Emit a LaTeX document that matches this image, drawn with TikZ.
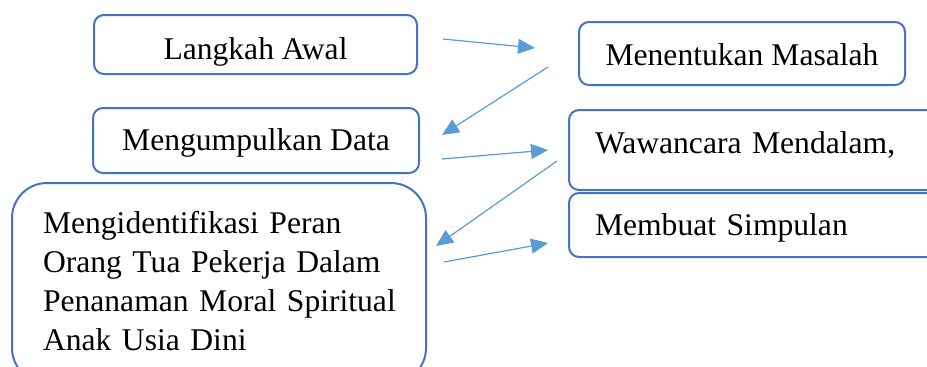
\documentclass[tikz,border=0pt]{standalone}
\usepackage{fontspec}
\setmainfont{Liberation Serif}
\usetikzlibrary{arrows.meta}
\definecolor{boxblue}{HTML}{4472C4}
\definecolor{arrblue}{HTML}{5B9BD5}
\begin{document}
\begin{tikzpicture}[x=1pt,y=-1pt,
  box/.style={draw=boxblue, line width=2pt, rounded corners=10pt,
    font=\fontsize{31.6}{39}\selectfont, inner sep=0pt, text depth=0pt},
  rbox/.style={box, text width=339pt, align=left, inner xsep=26pt},
  arr/.style={draw=arrblue, line width=1.2pt, -{Triangle[length=17pt,width=15pt]}}]
\useasboundingbox (0,0) rectangle (927,367);
\clip (0,0) rectangle (927,367);
% boxes
\node[box, minimum width=323pt, minimum height=59pt, text height=29pt] (b1) at (255.5,44.5) {Langkah Awal};
\node[box, minimum width=326pt, minimum height=63pt, text height=23pt] (b2) at (742,53.5) {Menentukan Masalah};
\node[box, minimum width=326pt, minimum height=65pt, text height=19pt] (b3) at (256,140.5) {Mengumpulkan Data};
\node[rbox, minimum height=80pt, text height=21pt, text depth=15pt] (b4) at (764.5,150) {Wawancara Mendalam,};
\node[rbox, minimum height=64pt, text height=20pt] (b5) at (764.5,225) {Membuat Simpulan};
\node[box, rounded corners=35pt, text width=352pt, align=left, inner xsep=31pt,
  minimum height=200pt, text height=25pt, text depth=125pt] (b6) at (219,283)
  {\mbox{Mengidentifikasi Peran}\\\mbox{Orang Tua Pekerja Dalam}\\\mbox{Penanaman Moral Spiritual}\\\mbox{Anak Usia Dini}};
% arrow ends
\coordinate (a1s) at (443,39);  \coordinate (a1e) at (535,48);
\coordinate (a2s) at (548,67);  \coordinate (a2e) at (442,135);
\coordinate (a3s) at (442,159); \coordinate (a3e) at (548,150);
\coordinate (a4s) at (557,161); \coordinate (a4e) at (436,246);
\coordinate (a5s) at (444,262); \coordinate (a5e) at (548,243);
\draw[arr] (a1s) -- (a1e);
\draw[arr] (a2s) -- (a2e);
\draw[arr] (a3s) -- (a3e);
\draw[arr] (a4s) -- (a4e);
\draw[arr] (a5s) -- (a5e);
\end{tikzpicture}
\end{document}
